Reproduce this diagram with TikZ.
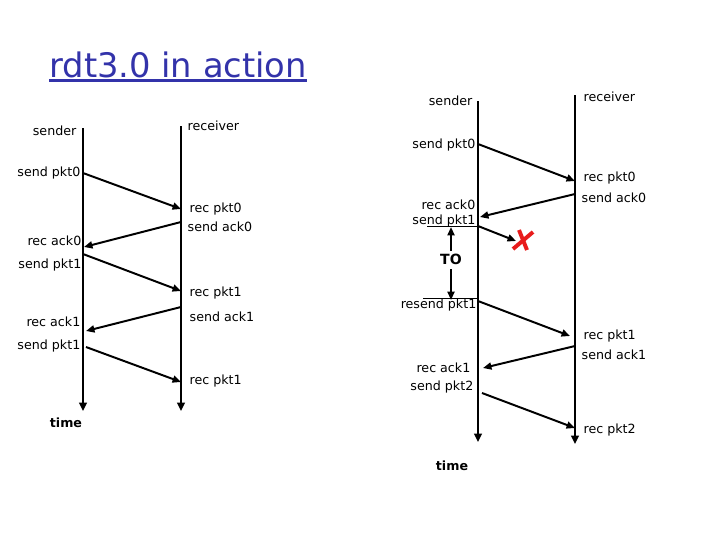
\documentclass[tikz,border=0pt]{standalone}
\usepackage{fontspec}
\setmainfont{DejaVu Sans}
\usepackage{tikz}
\usetikzlibrary{arrows.meta}
\definecolor{titleblue}{RGB}{51,51,170}
\definecolor{lossred}{RGB}{232,28,28}

\begin{document}
\begin{tikzpicture}[x=0.025cm, y=-0.025cm,
    life/.style={line width=1.9pt, -{Triangle[length=6pt, width=5.5pt]}},
    msg/.style={line width=1.4pt, -{Triangle[length=6pt, width=5pt]}},
    ev/.style={font=\fontsize{9}{10}\selectfont, inner sep=1pt},
    evl/.style={ev, anchor=east},
    evr/.style={ev, anchor=west},
    tm/.style={font=\fontsize{9}{10}\selectfont\bfseries, inner sep=1pt}
]
\useasboundingbox (0,0) rectangle (720,540);

\node[font=\fontsize{24}{26}\selectfont, text=titleblue, anchor=base west, inner sep=0pt] (title) at (49,77) {rdt3.0 in action};
\draw[titleblue, line width=1.6pt] (title.base west) ++(0,3.5) coordinate (ulA) -- (ulA -| title.base east);

% left: no loss
\coordinate (sT) at (83,128);
\coordinate (sB) at (83,411);
\coordinate (rT) at (181,126);
\coordinate (rB) at (181,411);
\draw[life] (sT) -- (sB);
\draw[life] (rT) -- (rB);
\node[evl] (sndr) at (78,131) {sender};
\node[evr] (rcvr) at (186,126) {receiver};

\coordinate (a1) at (83,173);
\coordinate (b1) at (181,209);
\coordinate (b2) at (181,222);
\coordinate (a2) at (84,247);
\coordinate (a3) at (83,254);
\coordinate (b3) at (181,291);
\coordinate (b4) at (181,307);
\coordinate (a4) at (86,331);
\coordinate (a5) at (86,347);
\coordinate (b5) at (181,382);
\draw[msg] (a1) -- (b1);
\draw[msg] (b2) -- (a2);
\draw[msg] (a3) -- (b3);
\draw[msg] (b4) -- (a4);
\draw[msg] (a5) -- (b5);

\node[evl] (l1) at (82,173) {send pkt0};
\node[evr] (l2) at (188,209) {rec pkt0};
\node[evr] (l3) at (186,227) {send ack0};
\node[evl] (l4) at (83,241) {rec ack0};
\node[evl] (l5) at (83,265) {send pkt1};
\node[evr] (l6) at (188,293) {rec pkt1};
\node[evr] (l7) at (188,317) {send ack1};
\node[evl] (l8) at (82,322) {rec ack1};
\node[evl] (l9) at (82,346) {send pkt1};
\node[evr] (l10) at (188,381) {rec pkt1};
\node[tm] (time1) at (66,423) {time};

% right: packet loss
\coordinate (SsT) at (478,101);
\coordinate (SsB) at (478,442);
\coordinate (SrT) at (575,95);
\coordinate (SrB) at (575,444);
\draw[life] (SsT) -- (SsB);
\draw[life] (SrT) -- (SrB);
\node[evl] (Ssndr) at (474,101) {sender};
\node[evr] (Srcvr) at (582,97) {receiver};

\coordinate (c1) at (478,144);
\coordinate (d1) at (575,181);
\coordinate (d2) at (575,194);
\coordinate (c2) at (480,217);
\coordinate (c3) at (478,226);
\coordinate (x1) at (516,241);
\coordinate (c4) at (478,301);
\coordinate (d4) at (570,336);
\coordinate (d5) at (575,346);
\coordinate (c5) at (483,368);
\coordinate (c6) at (482,393);
\coordinate (d6) at (575,428);
\draw[msg] (c1) -- (d1);
\draw[msg] (d2) -- (c2);
\draw[msg] (c3) -- (x1);
\draw[msg] (c4) -- (d4);
\draw[msg] (d5) -- (c5);
\draw[msg] (c6) -- (d6);

\draw[lossred, line width=2.8pt] (533,232) -- (513,249);
\draw[lossred, line width=2.8pt] (519,230) -- (527,250);

\coordinate (tA) at (427,226);
\coordinate (tB) at (423,298);
\draw[line width=0.6pt] (tA) -- (c3);
\draw[line width=0.6pt] (tB) -- (c4 |- tB);
\node[tm, font=\fontsize{10}{11}\selectfont\bfseries] (TO) at (451,259) {TO};
\draw[msg] (TO.north) ++(0,-1) coordinate (toU) -- (451,227) coordinate (toUe);
\draw[msg] (TO.south) ++(0,3) coordinate (toD) -- (451,300) coordinate (toDe);

\node[evl] (r1) at (477,145) {send pkt0};
\node[evr] (r2) at (582,178) {rec pkt0};
\node[evr] (r3) at (580,198) {send ack0};
\node[evl] (r4) at (477,205) {rec ack0};
\node[evl] (r5) at (477,221) {send pkt1};
\node[evl] (r6) at (478,305) {resend pkt1};
\node[evr] (r7) at (582,336) {rec pkt1};
\node[evr] (r8) at (580,355) {send ack1};
\node[evl] (r9) at (472,368) {rec ack1};
\node[evl] (r10) at (475,387) {send pkt2};
\node[evr] (r11) at (582,430) {rec pkt2};
\node[tm] (time2) at (452,466) {time};
\end{tikzpicture}
\end{document}
